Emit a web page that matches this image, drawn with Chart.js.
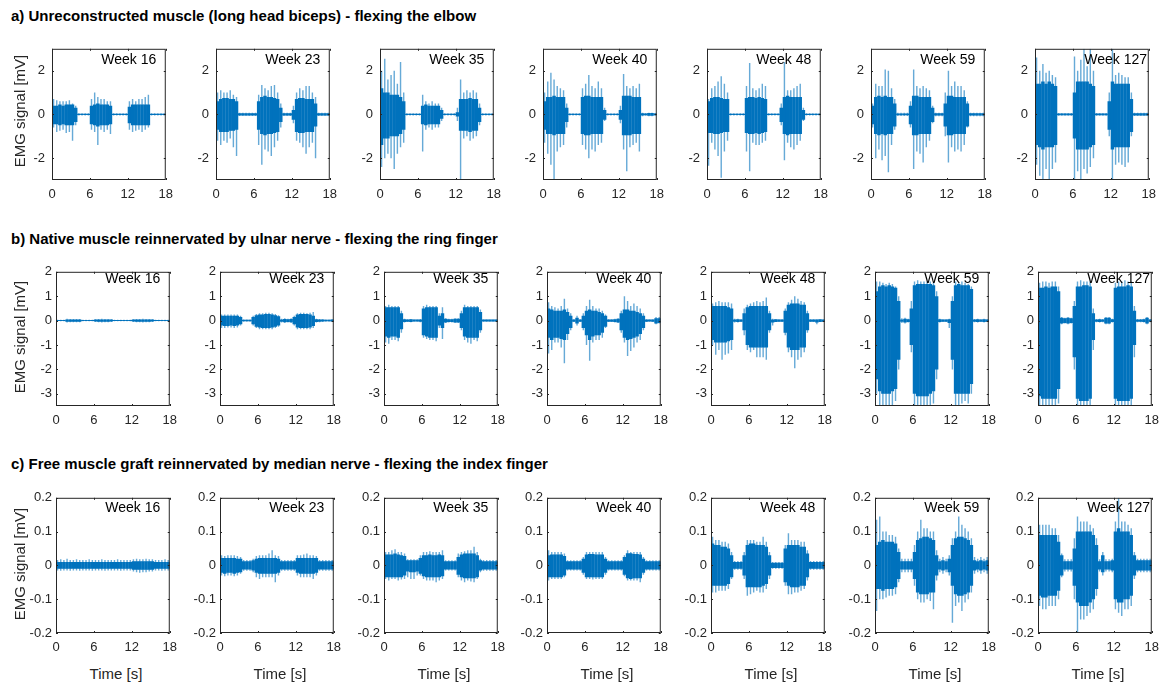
<!DOCTYPE html>
<html>
<head>
<meta charset="utf-8">
<script src="https://cdn.jsdelivr.net/npm/chart.js@4/dist/chart.umd.min.js"></script>
<style>
  html, body { margin: 0; padding: 0; background: #fff; }
  body { width: 1169px; height: 686px; position: relative; overflow: hidden;
         font-family: "Liberation Sans", Arial, Helvetica, sans-serif; }
  .title { position: absolute; left: 11px; font-weight: bold; font-size: 15px; color: #000;
           white-space: nowrap; line-height: 15px; }
  .ylab { position: absolute; font-size: 15px; color: #262626; white-space: nowrap; line-height: 15px;
          transform: translate(-50%, -50%) rotate(-90deg); }
  .xlab { position: absolute; font-size: 15px; color: #262626; white-space: nowrap; line-height: 15px;
          transform: translate(-50%, -50%); }
  canvas { position: absolute; }
</style>
</head>
<body>
<div class="title" style="top:8px">a) Unreconstructed muscle (long head biceps) - flexing the elbow</div>
<div class="title" style="top:231px">b) Native muscle reinnervated by ulnar nerve - flexing the ring finger</div>
<div class="title" style="top:456px">c) Free muscle graft reinnervated by median nerve - flexing the index finger</div>
<div id="plots"></div>
<script>
// Time bin centres (s), 0.5 s bins over the 18 s recordings
const timeBins = [0.25,0.75,1.25,1.75,2.25,2.75,3.25,3.75,4.25,4.75,5.25,5.75,6.25,6.75,7.25,7.75,8.25,8.75,
                  9.25,9.75,10.25,10.75,11.25,11.75,12.25,12.75,13.25,13.75,14.25,14.75,15.25,15.75,16.25,16.75,17.25,17.75];
const weeks = [16, 23, 35, 40, 48, 59, 127];
const xTicks = [0, 6, 12, 18];
const elbowTicks = [-2, 0, 2];
const ringTicks = [-3, -2, -1, 0, 1, 2];
const indexTicks = [-0.2, -0.1, 0, 0.1, 0.2];

// EMG envelopes per 0.5 s bin (mV): dense core (hi/lo) and spike extremes (up/dn), one array per week
const elbowHi = [
  [.4,.4,.45,.4,.45,.45,.45,.3,.03,.03,.03,.03,.4,.45,.5,.45,.45,.45,.4,.03,.03,.03,.03,.03,.35,.45,.45,.45,.45,.45,.45,.03,.03,.03,.03,.03],
  [.6,.7,.75,.75,.7,.7,.6,.05,.05,.05,.05,.05,.05,.6,.8,.85,.8,.8,.75,.7,.3,.05,.05,.05,.2,.7,.75,.75,.7,.7,.7,.5,.05,.05,.05,.05],
  [1.2,1.0,1.0,.9,.9,.9,.8,.6,.03,.03,.03,.03,.03,.4,.45,.4,.4,.4,.4,.2,.03,.03,.03,.03,.1,.7,.7,.7,.75,.7,.7,.3,.03,.03,.03,.03],
  [.6,.8,.8,.85,.8,.8,.8,.3,.03,.03,.03,.03,.8,.85,.85,.8,.8,.8,.8,.2,.03,.03,.03,.03,.2,.85,.85,.85,.8,.8,.8,.05,.04,.06,.06,.04],
  [.6,.75,.8,.8,.75,.7,.7,.03,.03,.03,.03,.03,.75,.8,.8,.75,.8,.75,.7,.03,.03,.03,.03,.3,.8,.85,.8,.8,.8,.8,.2,.03,.03,.03,.03,.03],
  [.4,.8,.85,.8,.85,.8,.8,.5,.04,.04,.04,.04,.4,.85,.85,.8,.8,.8,.8,.3,.05,.05,.05,.5,.85,.85,.8,.8,.8,.8,.5,.05,.05,.05,.05,.05],
  [1.4,1.4,1.5,1.4,1.5,1.4,1.3,.04,.04,.04,.04,.04,1.0,1.5,1.5,1.5,1.5,1.4,1.3,.04,.04,.04,.04,.6,1.5,1.4,1.4,1.4,1.4,1.4,.7,.05,.05,.05,.05,.05]
];
const elbowLo = [
  [-.45,-.45,-.5,-.45,-.5,-.5,-.5,-.35,-.03,-.03,-.03,-.03,-.45,-.5,-.55,-.5,-.5,-.5,-.45,-.03,-.03,-.03,-.03,-.03,-.4,-.5,-.5,-.5,-.5,-.5,-.5,-.03,-.03,-.03,-.03,-.03],
  [-.7,-.8,-.8,-.8,-.75,-.75,-.7,-.05,-.05,-.05,-.05,-.05,-.05,-.7,-.9,-.95,-.9,-.9,-.85,-.8,-.35,-.05,-.05,-.05,-.25,-.8,-.85,-.85,-.8,-.8,-.8,-.55,-.05,-.05,-.05,-.05],
  [-1.4,-1.1,-1.1,-1.0,-1.0,-1.0,-.9,-.7,-.03,-.03,-.03,-.03,-.03,-.45,-.5,-.45,-.45,-.45,-.45,-.2,-.03,-.03,-.03,-.03,-.1,-.75,-.75,-.75,-.8,-.75,-.75,-.35,-.03,-.03,-.03,-.03],
  [-.7,-.9,-.9,-.95,-.9,-.9,-.9,-.35,-.03,-.03,-.03,-.03,-.9,-.95,-.95,-.9,-.9,-.9,-.9,-.25,-.03,-.03,-.03,-.03,-.25,-.95,-.95,-.95,-.9,-.9,-.9,-.05,-.04,-.06,-.06,-.04],
  [-.85,-.85,-.9,-.9,-.85,-.8,-.8,-.03,-.03,-.03,-.03,-.03,-.85,-.9,-.9,-.85,-.9,-.85,-.8,-.03,-.03,-.03,-.03,-.35,-.9,-.95,-.9,-.9,-.9,-.9,-.25,-.03,-.03,-.03,-.03,-.03],
  [-.45,-.9,-.95,-.9,-.95,-.9,-.9,-.55,-.04,-.04,-.04,-.04,-.45,-.95,-.95,-.9,-.9,-.9,-.9,-.35,-.05,-.05,-.05,-.55,-.95,-.95,-.9,-.9,-.9,-.9,-.55,-.05,-.05,-.05,-.05,-.05],
  [-1.4,-1.5,-1.6,-1.5,-1.5,-1.5,-1.4,-.04,-.04,-.04,-.04,-.04,-1.1,-1.6,-1.6,-1.6,-1.6,-1.5,-1.4,-.04,-.04,-.04,-.04,-.7,-1.6,-1.5,-1.5,-1.5,-1.5,-1.5,-.8,-.05,-.05,-.05,-.05,-.05]
];
const elbowUp = [
  [.7,.65,.6,.6,.6,.65,.5,.4,.05,.05,.05,.05,.7,1.0,.8,.7,.7,.6,.6,.05,.05,.05,.05,.05,.6,.7,.6,.7,.7,.8,.9,.05,.05,.05,.05,.05],
  [1.0,1.1,1.0,1.0,1.1,.9,.8,.07,.07,.07,.07,.07,.07,.9,1.35,1.2,1.1,1.3,1.35,1.0,.5,.07,.07,.07,.4,1.0,1.2,1.1,1.3,1.3,1.0,.8,.07,.07,.07,.07],
  [2.0,2.55,1.6,1.8,2.0,1.4,2.4,1.0,.05,.05,.05,.05,.05,.9,.6,.5,.6,.5,.5,.3,.05,.05,.05,.05,.3,1.6,1.0,1.1,1.0,1.1,1.0,.5,.05,.05,.05,.05],
  [1.0,1.5,1.9,1.6,1.3,1.2,1.1,.5,.05,.05,.05,.05,1.2,1.4,1.8,1.3,1.2,1.5,1.2,.3,.05,.05,.05,.05,.4,1.85,1.3,1.2,1.3,1.2,1.4,.08,.06,.08,.08,.06],
  [.7,1.2,1.3,1.5,1.75,1.4,1.0,.05,.05,.05,.05,.05,1.3,2.35,1.2,1.1,1.2,1.4,1.3,.05,.05,.05,.05,.5,2.4,1.1,1.1,1.2,1.3,1.4,.3,.05,.05,.05,.05,.05],
  [.5,1.4,1.3,1.3,2.05,2.0,1.2,.7,.07,.07,.07,.07,.6,2.05,1.3,1.2,1.3,1.2,1.1,.4,.08,.08,.08,1.0,2.0,1.3,1.5,1.3,1.3,1.1,.6,.08,.08,.08,.08,.08],
  [2.6,2.0,2.3,1.9,2.0,1.8,1.7,.06,.06,.06,.06,.06,2.65,2.0,2.5,3.0,2.2,3.0,2.0,.06,.06,.06,.06,1.0,3.0,1.8,1.9,1.8,1.7,1.7,1.0,.07,.07,.07,.07,.07]
];
const elbowDn = [
  [-.6,-.8,-.75,-.7,-.85,-.8,-1.2,-.5,-.05,-.05,-.05,-.05,-.7,-.8,-1.4,-.7,-.8,-.7,-.9,-.05,-.05,-.05,-.05,-.05,-.7,-.8,-.75,-.7,-.8,-.7,-.6,-.05,-.05,-.05,-.05,-.05],
  [-1.2,-1.4,-1.2,-1.3,-1.1,-1.5,-1.9,-.07,-.07,-.07,-.07,-.07,-.07,-1.4,-2.3,-1.6,-1.7,-1.9,-1.5,-1.2,-.6,-.07,-.07,-.07,-.4,-1.2,-1.3,-1.5,-1.8,-1.5,-1.3,-2.0,-.07,-.07,-.07,-.07],
  [-2.4,-2.0,-1.8,-2.0,-2.5,-1.8,-1.5,-1.3,-.05,-.05,-.05,-.05,-.05,-1.7,-.7,-.6,-.7,-.6,-.6,-.3,-.05,-.05,-.05,-.05,-.3,-3.0,-1.1,-1.0,-1.2,-1.1,-1.0,-.5,-.05,-.05,-.05,-.05],
  [-1.3,-1.8,-2.3,-3.0,-1.7,-1.5,-1.4,-.6,-.05,-.05,-.05,-.05,-1.4,-1.6,-2.0,-1.6,-1.7,-1.4,-1.3,-.3,-.05,-.05,-.05,-.05,-.4,-1.6,-2.6,-1.5,-1.4,-1.3,-1.7,-.08,-.06,-.08,-.08,-.06],
  [-2.35,-1.3,-1.6,-1.9,-2.9,-1.7,-1.2,-.05,-.05,-.05,-.05,-.05,-1.7,-2.6,-1.3,-1.4,-1.4,-1.3,-1.2,-.05,-.05,-.05,-.05,-.5,-2.1,-1.3,-1.5,-1.6,-1.4,-1.2,-.3,-.05,-.05,-.05,-.05,-.05],
  [-.6,-2.0,-1.6,-2.1,-1.9,-2.65,-1.4,-.7,-.07,-.07,-.07,-.07,-.6,-2.5,-1.7,-1.8,-2.2,-1.5,-1.2,-.4,-.08,-.08,-.08,-1.0,-2.2,-1.5,-1.7,-1.6,-1.7,-1.4,-.6,-.08,-.08,-.08,-.08,-.08],
  [-2.3,-2.8,-3.0,-2.5,-3.0,-2.5,-2.2,-.06,-.06,-.06,-.06,-.06,-3.0,-2.6,-3.0,-2.5,-2.7,-2.4,-2.0,-.06,-.06,-.06,-.06,-1.0,-3.0,-2.3,-2.2,-2.3,-2.4,-2.2,-1.0,-.07,-.07,-.07,-.07,-.07]
];

const ringHi = [
  [.02,.02,.02,.05,.05,.05,.05,.05,.02,.02,.02,.02,.04,.05,.05,.05,.05,.04,.02,.02,.02,.02,.02,.02,.04,.05,.05,.05,.05,.05,.04,.02,.02,.02,.02,.02],
  [.2,.2,.2,.2,.2,.2,.15,.03,.03,.03,.15,.22,.25,.25,.27,.27,.25,.22,.18,.05,.07,.06,.07,.15,.25,.27,.27,.27,.25,.2,.06,.05,.04,.03,.03,.04],
  [.55,.55,.55,.55,.55,.3,.06,.05,.06,.04,.04,.05,.5,.55,.55,.55,.55,.2,.3,.08,.06,.06,.08,.08,.3,.55,.55,.55,.55,.55,.35,.04,.04,.04,.04,.04],
  [.5,.45,.4,.4,.4,.45,.35,.2,.05,.12,.05,.2,.4,.45,.4,.4,.35,.3,.2,.05,.05,.06,.08,.3,.45,.45,.4,.4,.35,.3,.2,.05,.04,.05,.1,.1],
  [.6,.6,.6,.6,.6,.55,.5,.05,.06,.05,.3,.55,.6,.6,.6,.6,.6,.6,.3,.05,.06,.05,.05,.4,.65,.7,.7,.7,.65,.65,.3,.05,.05,.05,.06,.05],
  [1.2,1.4,1.45,1.4,1.45,1.4,1.35,.8,.05,.08,.06,.5,1.45,1.5,1.5,1.5,1.5,1.5,1.45,1.0,.06,.05,.05,.06,.8,1.45,1.5,1.45,1.45,1.45,1.3,.05,.06,.05,.06,.05],
  [1.35,1.35,1.4,1.35,1.4,1.4,1.2,.12,.1,.12,.1,.6,1.4,1.4,1.45,1.45,1.4,.3,.05,.06,.05,.12,.12,.06,1.35,1.4,1.4,1.4,1.45,1.4,.4,.05,.05,.06,.12,.05]
];
const ringLo = [
  [-.02,-.02,-.02,-.05,-.05,-.05,-.05,-.05,-.02,-.02,-.02,-.02,-.04,-.05,-.05,-.05,-.05,-.04,-.02,-.02,-.02,-.02,-.02,-.02,-.04,-.05,-.05,-.05,-.05,-.05,-.04,-.02,-.02,-.02,-.02,-.02],
  [-.2,-.22,-.22,-.2,-.22,-.2,-.15,-.03,-.03,-.03,-.15,-.25,-.28,-.3,-.3,-.3,-.28,-.25,-.2,-.05,-.07,-.06,-.07,-.15,-.28,-.3,-.3,-.3,-.28,-.22,-.06,-.05,-.04,-.03,-.03,-.04],
  [-.65,-.7,-.65,-.65,-.7,-.35,-.06,-.05,-.06,-.04,-.04,-.05,-.6,-.65,-.7,-.7,-.7,-.2,-.3,-.08,-.06,-.06,-.08,-.08,-.3,-.65,-.7,-.7,-.7,-.7,-.4,-.04,-.04,-.04,-.04,-.04],
  [-.7,-.8,-.7,-.7,-.75,-.8,-.55,-.3,-.05,-.12,-.05,-.3,-.6,-.8,-.65,-.6,-.6,-.5,-.25,-.05,-.05,-.06,-.08,-.4,-.7,-.8,-.75,-.7,-.65,-.55,-.3,-.05,-.04,-.05,-.12,-.1],
  [-.8,-.9,-.9,-.9,-.9,-.85,-.8,-.05,-.06,-.05,-.4,-1.0,-1.1,-1.1,-1.1,-1.1,-1.1,-1.1,-.4,-.08,-.06,-.05,-.05,-.5,-1.1,-1.2,-1.2,-1.2,-1.1,-1.1,-.4,-.05,-.05,-.08,-.06,-.05],
  [-2.4,-2.9,-3.0,-3.0,-3.0,-2.9,-2.8,-1.6,-.05,-.08,-.06,-1.0,-3.0,-3.1,-3.1,-3.1,-3.1,-3.0,-2.9,-2.0,-.06,-.05,-.05,-.1,-1.6,-3.0,-3.0,-3.0,-3.0,-3.0,-2.6,-.05,-.06,-.05,-.06,-.05],
  [-3.1,-3.2,-3.2,-3.2,-3.2,-3.2,-2.8,-.12,-.1,-.12,-.1,-1.5,-3.2,-3.3,-3.3,-3.3,-3.2,-.8,-.05,-.06,-.05,-.12,-.12,-.06,-3.2,-3.3,-3.3,-3.3,-3.3,-3.2,-1.0,-.05,-.05,-.06,-.12,-.05]
];
const ringUp = [
  [.03,.03,.03,.08,.07,.07,.07,.07,.03,.03,.03,.03,.06,.07,.08,.07,.07,.06,.03,.03,.03,.03,.03,.03,.06,.07,.07,.08,.07,.07,.06,.03,.03,.03,.03,.03],
  [.25,.25,.25,.25,.25,.25,.2,.05,.05,.05,.2,.27,.3,.3,.32,.32,.3,.27,.22,.08,.1,.08,.1,.2,.3,.32,.32,.3,.32,.35,.08,.07,.06,.05,.05,.06],
  [.6,.65,.6,.6,.6,.4,.08,.06,.07,.05,.05,.07,.6,.65,.6,.6,.6,.3,.55,.1,.08,.08,.1,.1,.4,.65,.6,.6,.6,.6,.45,.05,.05,.05,.05,.05],
  [.75,.6,.55,.5,.6,.9,.5,.3,.06,.2,.06,.3,.6,.85,.6,.5,.5,.4,.25,.06,.06,.08,.1,.4,1.0,.8,.6,.7,.6,.5,.3,.06,.05,.06,.15,.15],
  [.7,.75,.8,.75,.75,.75,.7,.08,.08,.06,.5,.65,.7,.75,.8,.75,.8,.95,.4,.08,.06,.06,.06,.5,.75,.85,1.0,.9,.8,.75,.4,.06,.06,.06,.06,.05],
  [1.6,1.6,1.55,1.5,1.55,1.5,1.4,1.0,.1,.12,.08,.8,1.6,1.65,1.6,1.6,1.6,1.6,1.55,1.2,.08,.06,.06,.08,1.0,1.6,1.55,1.6,1.55,1.5,1.4,.07,.08,.06,.08,.06],
  [1.55,1.6,1.6,1.55,1.6,1.6,1.4,.15,.12,.15,.12,.8,1.6,1.65,1.6,1.6,1.6,.5,.07,.08,.07,.15,.15,.08,1.55,1.6,1.6,1.65,1.6,1.6,.6,.07,.07,.08,.15,.07]
];
const ringDn = [
  [-.03,-.03,-.03,-.08,-.07,-.07,-.07,-.07,-.03,-.03,-.03,-.03,-.06,-.07,-.08,-.07,-.07,-.06,-.03,-.03,-.03,-.03,-.03,-.03,-.06,-.07,-.07,-.08,-.07,-.07,-.06,-.03,-.03,-.03,-.03,-.03],
  [-.3,-.3,-.28,-.28,-.3,-.28,-.2,-.05,-.05,-.05,-.2,-.3,-.35,-.35,-.35,-.35,-.35,-.3,-.25,-.08,-.1,-.08,-.1,-.2,-.35,-.35,-.35,-.35,-.35,-.3,-.08,-.07,-.06,-.05,-.05,-.06],
  [-.9,-.95,-.8,-.8,-.85,-.5,-.08,-.06,-.07,-.05,-.05,-.07,-.7,-.75,-.8,-.8,-.85,-.3,-.75,-.1,-.08,-.08,-.1,-.1,-.4,-.8,-.9,-.95,-.8,-.85,-.5,-.05,-.05,-.05,-.05,-.05],
  [-1.35,-1.2,-.9,-.9,-1.1,-1.75,-.8,-.4,-.06,-.2,-.06,-.4,-1.0,-1.65,-.9,-.8,-.8,-.7,-.3,-.06,-.06,-.08,-.1,-.5,-.9,-1.45,-1.25,-1.1,-.9,-.8,-.4,-.06,-.05,-.06,-.15,-.12],
  [-1.0,-1.4,-1.2,-1.6,-1.4,-1.35,-1.2,-.08,-.08,-.06,-.6,-1.2,-1.3,-1.2,-1.5,-1.5,-1.5,-1.6,-.5,-.2,-.06,-.06,-.06,-.6,-1.3,-1.5,-1.95,-1.6,-1.5,-1.3,-.5,-.06,-.06,-.15,-.06,-.05],
  [-3.0,-3.5,-3.5,-3.5,-3.5,-3.5,-3.3,-2.0,-.1,-.12,-.08,-1.3,-3.5,-3.5,-3.5,-3.5,-3.5,-3.5,-3.4,-2.4,-.08,-.06,-.06,-.3,-2.0,-3.5,-3.5,-3.4,-3.3,-3.4,-3.0,-.07,-.08,-.06,-.08,-.06],
  [-3.5,-3.5,-3.5,-3.5,-3.5,-3.5,-3.4,-.15,-.12,-.15,-.12,-2.0,-3.5,-3.5,-3.5,-3.5,-3.5,-1.2,-.07,-.08,-.07,-.15,-.15,-.08,-3.5,-3.5,-3.5,-3.5,-3.5,-3.5,-1.5,-.07,-.07,-.08,-.15,-.07]
];

const indexHi = [
  [.01,.01,.01,.01,.01,.01,.01,.01,.01,.01,.01,.01,.01,.01,.01,.01,.01,.01,.01,.01,.01,.01,.01,.01,.012,.012,.012,.012,.012,.012,.012,.01,.01,.01,.01,.01],
  [.022,.022,.022,.022,.022,.02,.02,.012,.012,.012,.015,.02,.022,.022,.022,.022,.022,.022,.02,.012,.012,.012,.012,.012,.022,.022,.022,.022,.022,.022,.022,.012,.012,.012,.012,.012],
  [.032,.032,.032,.035,.032,.03,.028,.015,.015,.015,.015,.022,.03,.03,.032,.03,.03,.032,.03,.012,.012,.012,.012,.025,.032,.035,.035,.035,.035,.03,.015,.012,.012,.012,.012,.012],
  [.03,.032,.032,.032,.032,.028,.012,.012,.012,.012,.012,.02,.032,.034,.034,.032,.032,.032,.02,.012,.012,.012,.012,.012,.025,.036,.036,.034,.034,.032,.02,.012,.012,.012,.012,.012],
  [.065,.06,.06,.055,.055,.05,.03,.01,.01,.01,.03,.06,.065,.065,.06,.06,.06,.055,.03,.008,.008,.008,.008,.05,.06,.06,.06,.06,.055,.055,.035,.01,.01,.01,.01,.01],
  [.06,.07,.075,.07,.07,.07,.065,.04,.012,.012,.012,.012,.04,.075,.08,.085,.085,.08,.075,.03,.012,.015,.012,.02,.06,.08,.085,.085,.08,.075,.06,.015,.012,.015,.012,.015],
  [.09,.09,.09,.09,.09,.09,.07,.03,.012,.012,.012,.05,.1,.1,.1,.1,.1,.09,.06,.012,.03,.012,.012,.015,.1,.11,.1,.1,.1,.09,.03,.015,.015,.015,.015,.015]
];
const indexLo = [
  [-.01,-.01,-.01,-.01,-.01,-.01,-.01,-.01,-.01,-.01,-.01,-.01,-.01,-.01,-.01,-.01,-.01,-.01,-.01,-.01,-.01,-.01,-.01,-.01,-.013,-.013,-.013,-.013,-.013,-.013,-.013,-.01,-.01,-.01,-.01,-.01],
  [-.022,-.025,-.022,-.022,-.025,-.022,-.02,-.012,-.012,-.012,-.015,-.022,-.025,-.025,-.025,-.025,-.025,-.025,-.022,-.012,-.012,-.012,-.012,-.012,-.022,-.025,-.025,-.025,-.025,-.025,-.022,-.012,-.012,-.012,-.012,-.012],
  [-.035,-.035,-.035,-.035,-.035,-.035,-.03,-.018,-.02,-.02,-.018,-.025,-.032,-.035,-.035,-.035,-.035,-.035,-.032,-.012,-.012,-.012,-.012,-.028,-.035,-.038,-.038,-.038,-.038,-.035,-.015,-.012,-.012,-.012,-.012,-.012],
  [-.035,-.035,-.035,-.035,-.035,-.03,-.012,-.012,-.012,-.012,-.012,-.022,-.035,-.035,-.035,-.035,-.035,-.035,-.022,-.012,-.012,-.012,-.012,-.012,-.028,-.038,-.04,-.038,-.038,-.038,-.022,-.012,-.012,-.012,-.012,-.012],
  [-.06,-.06,-.06,-.06,-.06,-.055,-.035,-.01,-.01,-.01,-.03,-.065,-.065,-.065,-.065,-.065,-.06,-.055,-.03,-.008,-.008,-.008,-.008,-.05,-.06,-.065,-.065,-.065,-.06,-.06,-.035,-.01,-.01,-.01,-.01,-.01],
  [-.07,-.07,-.075,-.07,-.07,-.07,-.065,-.04,-.012,-.012,-.012,-.012,-.04,-.08,-.085,-.085,-.085,-.08,-.08,-.03,-.012,-.015,-.012,-.02,-.06,-.085,-.09,-.09,-.085,-.08,-.06,-.015,-.012,-.015,-.012,-.015],
  [-.09,-.095,-.095,-.09,-.09,-.09,-.075,-.03,-.012,-.012,-.012,-.06,-.11,-.12,-.12,-.12,-.11,-.1,-.07,-.012,-.02,-.012,-.012,-.015,-.1,-.11,-.11,-.1,-.1,-.09,-.03,-.015,-.015,-.015,-.015,-.015]
];
const indexUp = [
  [.016,.018,.016,.02,.016,.016,.018,.016,.016,.016,.018,.016,.016,.016,.018,.016,.016,.016,.016,.018,.016,.016,.016,.016,.018,.02,.018,.018,.02,.018,.018,.016,.016,.016,.018,.016],
  [.03,.028,.03,.03,.03,.028,.025,.016,.016,.016,.02,.028,.03,.03,.03,.035,.045,.03,.028,.016,.016,.016,.016,.016,.03,.03,.032,.035,.03,.03,.028,.016,.016,.016,.016,.016],
  [.04,.04,.045,.048,.04,.04,.035,.018,.018,.018,.018,.03,.04,.04,.042,.04,.04,.04,.045,.015,.015,.015,.015,.035,.04,.042,.045,.045,.055,.04,.02,.016,.016,.016,.016,.016],
  [.045,.04,.04,.04,.04,.035,.015,.015,.015,.015,.015,.025,.04,.04,.04,.04,.04,.04,.025,.015,.015,.015,.015,.015,.03,.045,.04,.04,.04,.04,.025,.015,.015,.015,.015,.015],
  [.085,.075,.075,.07,.07,.065,.04,.013,.013,.013,.04,.075,.075,.075,.07,.07,.085,.07,.04,.01,.01,.01,.01,.06,.095,.075,.075,.075,.07,.07,.045,.013,.013,.013,.013,.013],
  [.135,.145,.1,.1,.09,.09,.085,.05,.02,.02,.02,.02,.06,.1,.135,.11,.11,.1,.1,.045,.02,.025,.02,.03,.08,.1,.145,.12,.11,.1,.08,.025,.02,.025,.02,.025],
  [.12,.12,.12,.12,.11,.11,.09,.035,.018,.018,.018,.08,.145,.13,.13,.13,.12,.11,.08,.018,.04,.018,.018,.02,.13,.2,.13,.13,.12,.11,.04,.02,.02,.02,.02,.02]
];
const indexDn = [
  [-.015,-.016,-.015,-.015,-.016,-.015,-.015,-.016,-.015,-.015,-.015,-.016,-.015,-.015,-.015,-.016,-.015,-.015,-.015,-.015,-.016,-.015,-.015,-.015,-.018,-.02,-.022,-.02,-.02,-.018,-.018,-.015,-.015,-.016,-.015,-.015],
  [-.03,-.032,-.03,-.03,-.032,-.03,-.025,-.016,-.016,-.016,-.02,-.035,-.04,-.035,-.035,-.035,-.035,-.05,-.03,-.016,-.016,-.016,-.016,-.016,-.03,-.035,-.035,-.035,-.035,-.04,-.03,-.016,-.016,-.016,-.016,-.016],
  [-.04,-.045,-.04,-.04,-.045,-.042,-.04,-.035,-.04,-.04,-.03,-.03,-.04,-.045,-.045,-.045,-.05,-.045,-.04,-.015,-.015,-.015,-.015,-.035,-.045,-.05,-.045,-.048,-.05,-.04,-.02,-.016,-.016,-.016,-.016,-.016],
  [-.045,-.04,-.04,-.04,-.04,-.035,-.015,-.015,-.015,-.015,-.015,-.028,-.04,-.04,-.042,-.04,-.04,-.04,-.028,-.015,-.015,-.015,-.015,-.015,-.032,-.045,-.045,-.045,-.045,-.05,-.028,-.015,-.015,-.015,-.015,-.015],
  [-.08,-.08,-.075,-.075,-.075,-.07,-.04,-.013,-.013,-.013,-.04,-.09,-.085,-.08,-.075,-.08,-.08,-.07,-.04,-.01,-.01,-.01,-.01,-.06,-.085,-.085,-.08,-.08,-.075,-.07,-.045,-.013,-.013,-.013,-.013,-.013],
  [-.135,-.1,-.1,-.095,-.09,-.09,-.085,-.05,-.02,-.02,-.02,-.02,-.06,-.1,-.11,-.11,-.1,-.105,-.13,-.045,-.02,-.025,-.02,-.03,-.17,-.12,-.11,-.135,-.11,-.1,-.08,-.025,-.02,-.025,-.02,-.025],
  [-.12,-.13,-.13,-.12,-.12,-.12,-.1,-.035,-.018,-.018,-.018,-.1,-.2,-.16,-.16,-.15,-.14,-.13,-.09,-.018,-.03,-.018,-.018,-.02,-.13,-.14,-.15,-.13,-.13,-.12,-.04,-.02,-.02,-.02,-.02,-.02]
];

// Panel grid: one row per muscle, seven recording sessions per row
const rows = [
  { hi: elbowHi, lo: elbowLo, up: elbowUp, dn: elbowDn, yTicks: elbowTicks, yMin: -3, yMax: 3, labelY: 2.5,
    top: 42, height: 138, lefts: [52, 216, 380, 543, 707, 871, 1035], tickPad: 7 },
  { hi: ringHi, lo: ringLo, up: ringUp, dn: ringDn, yTicks: ringTicks, yMin: -3.5, yMax: 2, labelY: 1.7,
    top: 268, height: 138, lefts: [56, 220, 384, 547, 711, 875, 1038], tickPad: 4 },
  { hi: indexHi, lo: indexLo, up: indexUp, dn: indexDn, yTicks: indexTicks, yMin: -0.2, yMax: 0.2, labelY: 0.17,
    top: 494, height: 139, lefts: [56, 220, 384, 547, 711, 875, 1038], tickPad: 4 }
];
const PANEL_W = 120;
const PAD_L = 40, PAD_T = 8, PAD_R = 8, PAD_B = 26;
const AXIS_COLOR = '#262626';
const LINE_COLOR = '#0072BD';
const FONT = '"Liberation Sans", Arial, Helvetica, sans-serif';

// Box, inward tick marks on all four sides and the session label
const framePlugin = {
  id: 'frame',
  afterDatasetsDraw(chart, args, opts) {
    const { ctx, chartArea: a, scales: { x, y } } = chart;
    ctx.save();
    ctx.strokeStyle = AXIS_COLOR;
    ctx.lineWidth = 1;
    ctx.beginPath();
    x.ticks.forEach(t => {
      const px = Math.round(x.getPixelForValue(t.value)) + 0.5;
      ctx.moveTo(px, a.bottom); ctx.lineTo(px, a.bottom - 2);
      ctx.moveTo(px, a.top); ctx.lineTo(px, a.top + 2);
    });
    y.ticks.forEach(t => {
      const py = Math.round(y.getPixelForValue(t.value)) + 0.5;
      ctx.moveTo(a.left, py); ctx.lineTo(a.left + 2, py);
      ctx.moveTo(a.right, py); ctx.lineTo(a.right - 2, py);
    });
    ctx.stroke();
    ctx.strokeRect(a.left + 0.5, a.top + 0.5, a.right - a.left - 1, a.bottom - a.top - 1);
    ctx.fillStyle = '#000';
    ctx.font = '14px ' + FONT;
    ctx.textAlign = 'left';
    ctx.textBaseline = 'middle';
    ctx.fillText(opts.label, x.getPixelForValue(7.8), y.getPixelForValue(opts.labelY));
    ctx.restore();
  }
};

const host = document.getElementById('plots');
rows.forEach((row, r) => {
  row.lefts.forEach((left, c) => {
    const canvas = document.createElement('canvas');
    canvas.width = PANEL_W + PAD_L + PAD_R;
    canvas.height = row.height + PAD_T + PAD_B;
    canvas.style.left = (left - PAD_L) + 'px';
    canvas.style.top = (row.top - PAD_T) + 'px';
    host.appendChild(canvas);

    const core = timeBins.map((t, i) => ({ x: t, y: [row.lo[c][i], row.hi[c][i]] }));
    const spikes = timeBins.map((t, i) => ({ x: t, y: [row.dn[c][i], row.up[c][i]] }));

    new Chart(canvas, {
      type: 'bar',
      data: {
        datasets: [
          { data: core, backgroundColor: LINE_COLOR, borderWidth: 0, barPercentage: 1.1, categoryPercentage: 1 },
          { data: spikes, backgroundColor: 'rgba(0,114,189,0.6)', borderWidth: 0, barPercentage: 0.45, categoryPercentage: 1 }
        ]
      },
      options: {
        responsive: false,
        animation: false,
        devicePixelRatio: 1,
        events: [],
        datasets: { bar: { grouped: false } },
        layout: { padding: { left: 0, top: PAD_T, right: PAD_R, bottom: 0 } },
        plugins: { legend: { display: false }, tooltip: { enabled: false }, frame: { label: 'Week ' + weeks[c], labelY: row.labelY } },
        scales: {
          x: {
            type: 'linear', min: 0, max: 18, offset: false,
            afterBuildTicks: s => { s.ticks = xTicks.map(v => ({ value: v })); },
            afterFit: s => { s.height = PAD_B; },
            grid: { display: false, drawTicks: false },
            border: { display: false },
            ticks: { color: AXIS_COLOR, font: { family: FONT, size: 13 }, padding: 7, maxRotation: 0,
                     callback: v => String(v) }
          },
          y: {
            type: 'linear', min: row.yMin, max: row.yMax,
            afterBuildTicks: s => { s.ticks = row.yTicks.map(v => ({ value: v })); },
            afterFit: s => { s.width = PAD_L; },
            grid: { display: false, drawTicks: false },
            border: { display: false },
            ticks: { color: AXIS_COLOR, font: { family: FONT, size: 13 }, padding: row.tickPad,
                     callback: v => String(v) }
          }
        }
      },
      plugins: [framePlugin]
    });

    if (c === 0) {
      const lab = document.createElement('div');
      lab.className = 'ylab';
      lab.textContent = 'EMG signal [mV]';
      lab.style.left = '19px';
      lab.style.top = (row.top + row.height / 2) + 'px';
      document.body.appendChild(lab);
    }
    if (r === 2) {
      const lab = document.createElement('div');
      lab.className = 'xlab';
      lab.textContent = 'Time [s]';
      lab.style.left = (left + PANEL_W / 2) + 'px';
      lab.style.top = '673px';
      document.body.appendChild(lab);
    }
  });
});
</script>
</body>
</html>
